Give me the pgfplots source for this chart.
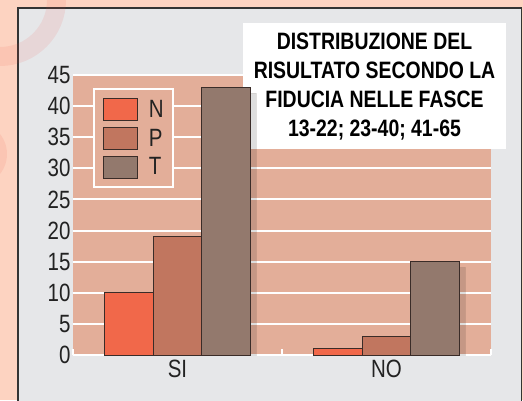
\documentclass[border=0pt]{standalone}
\usepackage{fontspec}
\setmainfont{Liberation Sans}[FakeStretch=0.82]
\usepackage{pgfplots}
\pgfplotsset{compat=1.18}
\usetikzlibrary{shadows}
\definecolor{outerc}{HTML}{FDD3C1}
\definecolor{panelc}{HTML}{E6E7E9}
\definecolor{panelline}{HTML}{333333}
\definecolor{plotbg}{HTML}{E3AE99}
\definecolor{cN}{HTML}{F1684A}
\definecolor{cP}{HTML}{C1765F}
\definecolor{cT}{HTML}{93796D}
\definecolor{barline}{HTML}{3A2C28}
\definecolor{ringc}{HTML}{F04A40}
\definecolor{txt}{HTML}{222222}
\begin{document}
\begin{tikzpicture}[x=1pt,y=1pt]
\useasboundingbox (0,0) rectangle (523,400);
\begin{scope}
\clip (0,0) rectangle (523,400);
\fill[outerc] (0,0) rectangle (523,400);
\fill[panelc] (18,-5) rectangle (521.5,392);
\draw[panelline, line width=1.2pt] (18,-5) -- (18,392) -- (521.5,392) -- (521.5,-5);
\draw[ringc, opacity=.1, line width=19pt] (0,400) circle (56.5);
\fill[ringc, opacity=.1] (-25,246) circle (32);
\end{scope}
% axis 1: background, grid, ticks
\begin{axis}[at={(73pt,45pt)}, anchor=south west, scale only axis,
  width=418pt, height=280pt,
  xmin=-0.5, xmax=1.5, ymin=0, ymax=45,
  axis background/.style={fill=plotbg},
  axis line style={draw=none},
  ytick={0,5,...,45}, ymajorgrids,
  major grid style={white, line width=2pt},
  major tick length=0pt,
  xtick={0,1}, xticklabels={SI,NO},
  minor xtick={-0.5,0.5,1.5},
  minor tick length=6pt,
  minor tick style={white, line width=1.5pt},
  tick align=inside, xtick pos=bottom, ytick pos=left,
  /pgf/number format/assume math mode=true,
  ticklabel style={font=\fontsize{25}{30}\selectfont, text=txt},
  xticklabel style={yshift=-2pt},
  yticklabel style={xshift=1pt},
]
\end{axis}
% title box
\fill[white] (243,251) rectangle (506,377);
\node[align=center, text=black, font=\fontsize{23.7}{29}\selectfont\bfseries] at (374.5,313)
  {DISTRIBUZIONE DEL\\RISULTATO SECONDO LA\\FIDUCIA NELLE FASCE\\13-22; 23-40; 41-65};
% axis 2: bars
\begin{axis}[at={(73pt,45pt)}, anchor=south west, scale only axis,
  width=418pt, height=280pt,
  xmin=-0.5, xmax=1.5, ymin=0, ymax=45,
  hide axis,
  ybar=0pt, bar width=48.7pt,
  legend image code/.code={\draw[#1, draw=barline, line width=0.8pt] (0pt,-11pt) rectangle (34pt,11pt);},
  legend style={at={(0.0478,0.9536)}, anchor=north west, fill=plotbg, draw=white,
    line width=2pt, font=\fontsize{25}{30}\selectfont, text=txt,
    nodes={inner xsep=0pt, inner ysep=0pt}, row sep=6pt, column sep=11pt,
    inner xsep=9pt, inner ysep=9pt, cells={anchor=west}},
  legend cell align=left,
]
\addplot[fill=cN, draw=barline, line width=0.8pt, forget plot, bar shift=-48.7pt,
  drop shadow={shadow xshift=5.5pt, shadow yshift=-6pt, opacity=0.13, fill=black}]
  coordinates {(0,10) (1,1)};
\addplot[fill=cP, draw=barline, line width=0.8pt, forget plot, bar shift=0pt,
  drop shadow={shadow xshift=5.5pt, shadow yshift=-6pt, opacity=0.13, fill=black}]
  coordinates {(0,19) (1,3)};
\addplot[fill=cT, draw=barline, line width=0.8pt, forget plot, bar shift=48.7pt,
  drop shadow={shadow xshift=5.5pt, shadow yshift=-6pt, opacity=0.13, fill=black}]
  coordinates {(0,43) (1,15)};
\addlegendimage{fill=cN}
\addlegendentry{N\hspace{-11pt}}
\addlegendimage{fill=cP}
\addlegendentry{P\hspace{-11pt}}
\addlegendimage{fill=cT}
\addlegendentry{T\hspace{-11pt}}
\end{axis}
\end{tikzpicture}
\end{document}
